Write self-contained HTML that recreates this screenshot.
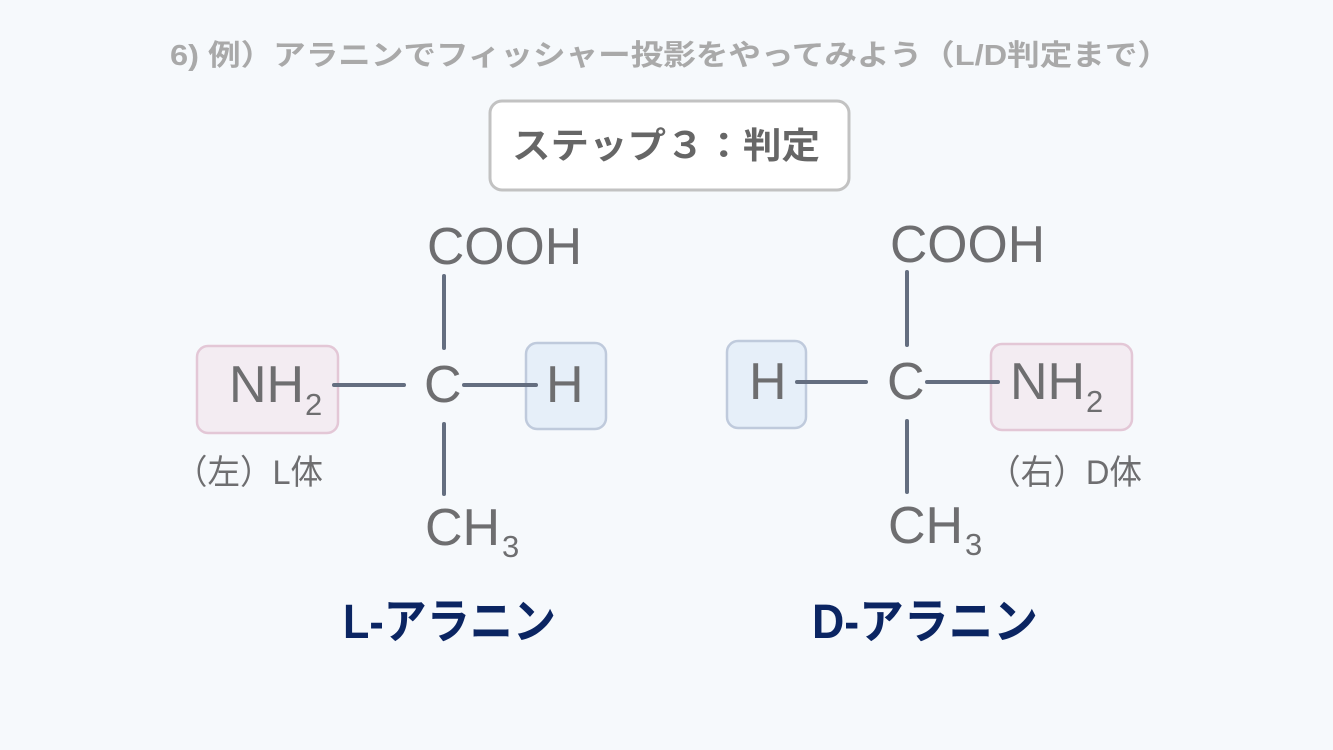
<!DOCTYPE html>
<html><head><meta charset="utf-8"><style>
html,body{margin:0;padding:0;background:#f6f9fc;}
svg{display:block;}
text{font-family:"Liberation Sans","Noto Sans CJK JP",sans-serif;}
</style></head><body>
<svg width="1333" height="750" viewBox="0 0 1333 750" xmlns="http://www.w3.org/2000/svg">
<rect width="1333" height="750" fill="#f6f9fc"/>
<text x="170" y="65" font-size="29" font-weight="bold" fill="#a9a9a9" textLength="1000" lengthAdjust="spacingAndGlyphs">6) 例）アラニンでフィッシャー投影をやってみよう（L/D判定まで）</text>
<rect x="490" y="101" width="359" height="89" rx="12" fill="#fff" stroke="#c2c2c2" stroke-width="3"/>
<text x="512" y="158" font-size="36" font-weight="bold" fill="#666" textLength="308" lengthAdjust="spacingAndGlyphs">ステップ３：判定</text>

<g fill="#6e6e70">
<!-- left -->
<rect x="197" y="346" width="141" height="87" rx="11" fill="#f3ecf2" stroke="#e3c7d6" stroke-width="2.5"/>
<rect x="526" y="343" width="80" height="86" rx="11" fill="#e6eff9" stroke="#bfcadc" stroke-width="2.5"/>
<text x="427" y="264" font-size="52" textLength="155" lengthAdjust="spacingAndGlyphs">COOH</text>
<text x="424" y="402" font-size="52">C</text>
<text x="546" y="402" font-size="52">H</text>
<text x="229" y="402" font-size="52">NH</text><text x="305" y="415" font-size="31">2</text>
<text x="425" y="545" font-size="52">CH</text><text x="502" y="557" font-size="31">3</text>
<text x="175" y="484" font-size="34" textLength="148" lengthAdjust="spacingAndGlyphs">（左）L体</text>
<!-- right -->
<rect x="727" y="341" width="79" height="87" rx="11" fill="#e6eff9" stroke="#bfcadc" stroke-width="2.5"/>
<rect x="991" y="344" width="141" height="86" rx="11" fill="#f3ecf2" stroke="#e3c7d6" stroke-width="2.5"/>
<text x="890" y="262" font-size="52" textLength="155" lengthAdjust="spacingAndGlyphs">COOH</text>
<text x="887" y="399" font-size="52">C</text>
<text x="749" y="399" font-size="52">H</text>
<text x="1010" y="399" font-size="52">NH</text><text x="1086" y="412" font-size="31">2</text>
<text x="888" y="543" font-size="52">CH</text><text x="965" y="555" font-size="31">3</text>
<text x="988" y="484" font-size="34" textLength="154" lengthAdjust="spacingAndGlyphs">（右）D体</text>
</g>
<g stroke="#646e80" stroke-width="4" stroke-linecap="round">
<line x1="444" y1="276" x2="444" y2="348"/>
<line x1="444" y1="424" x2="444" y2="494"/>
<line x1="334" y1="385" x2="404" y2="385"/>
<line x1="464" y1="385" x2="536" y2="385"/>
<line x1="907" y1="272" x2="907" y2="345"/>
<line x1="907" y1="421" x2="907" y2="492"/>
<line x1="797" y1="382" x2="866" y2="382"/>
<line x1="927" y1="382" x2="998" y2="382"/>
</g>
<text x="343" y="638" font-size="48" font-weight="bold" fill="#0b2562" textLength="213" lengthAdjust="spacingAndGlyphs">L-アラニン</text>
<text x="812" y="638" font-size="48" font-weight="bold" fill="#0b2562" textLength="226" lengthAdjust="spacingAndGlyphs">D-アラニン</text>
</svg>
</body></html>
